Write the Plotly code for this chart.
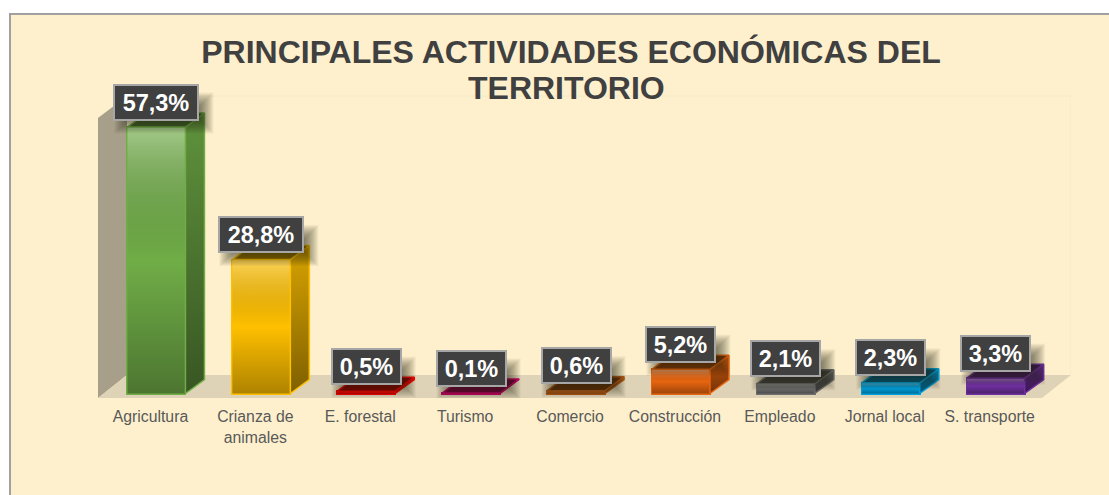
import plotly.graph_objects as go

categories = ["Agricultura", "Crianza de<br>animales", "E. forestal", "Turismo", "Comercio",
              "Construcción", "Empleado", "Jornal local", "S. transporte"]
values = [57.3, 28.8, 0.5, 0.1, 0.6, 5.2, 2.1, 2.3, 3.3]
labels = ["57,3%", "28,8%", "0,5%", "0,1%", "0,6%", "5,2%", "2,1%", "2,3%", "3,3%"]
colors = ["#70ad47", "#ffc000", "#ff0000", "#d0006a", "#b85a12", "#e8650f", "#6e6e6e", "#00a0dc", "#7030a0"]
title_line_1 = "PRINCIPALES ACTIVIDADES ECONÓMICAS DEL"
title_line_2 = "TERRITORIO"

W, H = 1109, 495
L, R, T, B = 98, 1071, 60, 398      # plot area, px
PX_X = 104.9                        # px per category
PX_Y = 4.65                         # px per percentage point
Y0_PX = 393.5                       # px of value 0 on the front plane
x_range = [-0.5, -0.5 + (R - L) / PX_X]
y_range = [-(B - Y0_PX) / PX_Y, (Y0_PX - T) / PX_Y]
DX, DY = 19 / PX_X, 14 / PX_Y       # bar depth
BAR_W = 58 / PX_X
BAR_OFF = 6 / PX_X
WALL_DX, WALL_DY = 29 / PX_X, 23 / PX_Y
WALL_TOP = (Y0_PX - 118) / PX_Y


def shade(c, f):
    r, g, b = int(c[1:3], 16), int(c[3:5], 16), int(c[5:7], 16)
    return f"rgb({int(r*f)},{int(g*f)},{int(b*f)})"


fig = go.Figure()
xs = [i + BAR_OFF for i in range(len(values))]
fig.add_trace(go.Bar(x=xs, y=values, width=BAR_W, marker=dict(color=colors, line=dict(color=colors, width=2)),
                     hoverinfo="skip", showlegend=False, cliponaxis=False))

for x, v, c in zip(xs, values, colors):
    x0, x1 = x - BAR_W / 2, x + BAR_W / 2
    # gradient overlay on the front face
    fig.add_trace(go.Scatter(
        x=[x0, x1, x1, x0, x0], y=[0, 0, v, v, 0], mode="lines", line=dict(width=0), fill="toself",
        fillgradient=dict(type="vertical", colorscale=[[0, "rgba(0,0,0,0.32)"], [0.5, "rgba(0,0,0,0)"], [1, "rgba(255,255,255,0.36)"]]),
        hoverinfo="skip", showlegend=False))
    # side face
    fig.add_trace(go.Scatter(
        x=[x1, x1 + DX, x1 + DX, x1, x1], y=[0, DY, v + DY, v, 0], mode="lines",
        line=dict(width=1.5, color=c), fill="toself",
        fillgradient=dict(type="vertical", colorscale=[[0, shade(c, 0.5)], [1, shade(c, 0.85)]]),
        hoverinfo="skip", showlegend=False))
    # top face
    fig.add_trace(go.Scatter(
        x=[x0, x1, x1 + DX, x0 + DX, x0], y=[v, v, v + DY, v + DY, v], mode="lines",
        line=dict(width=1.5, color=c), fill="toself", fillcolor=shade(c, 0.55),
        hoverinfo="skip", showlegend=False))

shapes = [
    # chart background and border
    dict(type="rect", xref="paper", yref="paper", layer="below",
         x0=(10 - L) / (R - L), x1=(W + 5 - L) / (R - L), y0=(B - H - 5) / (B - T), y1=(B - 14) / (B - T),
         fillcolor="#fef0cd", line=dict(color="#a0a0a0", width=2)),
    # back wall edges
    dict(type="path", layer="below", xref="x", yref="y",
         path=f"M {x_range[0]+WALL_DX},{(Y0_PX-96)/PX_Y} L {x_range[1]},{(Y0_PX-96)/PX_Y} L {x_range[1]},{y_range[0]+WALL_DY}",
         line=dict(color="#f8eac6", width=1.5)),
    # side wall
    dict(type="path", layer="below", xref="x", yref="y",
         path=f"M {x_range[0]},{y_range[0]} L {x_range[0]},{WALL_TOP} L {x_range[0]+WALL_DX},{(Y0_PX-96)/PX_Y} "
              f"L {x_range[0]+WALL_DX},{y_range[0]+WALL_DY} Z",
         fillcolor="#a89f8a", line=dict(width=0)),
    # floor
    dict(type="path", layer="below", xref="x", yref="y",
         path=f"M {x_range[0]},{y_range[0]} L {x_range[0]+WALL_DX},{y_range[0]+WALL_DY} L {x_range[1]},{y_range[0]+WALL_DY} "
              f"L {x_range[1]-WALL_DX},{y_range[0]} Z",
         fillcolor="#dfd3b7", line=dict(width=0)),
]

annotations = [dict(
    x=(566 - L) / (R - L), y=(B - 88) / (B - T), xref="paper", yref="paper", text=f"<b>{title_line_2}</b>", showarrow=False,
    xanchor="center", yanchor="middle", font=dict(family="Liberation Sans", size=32, color="#404040"))]
LABEL_H = 37
LABEL_OFF = 25
for i, (x, v, t) in enumerate(zip(xs, values, labels)):
    w = 86 if v >= 10 else 71
    annotations.append(dict(
        x=x, y=v, xref="x", yref="y", text=f"<b>{t}</b>", showarrow=False, yshift=LABEL_OFF,
        width=w - 4, height=LABEL_H - 4, bgcolor="#404040", bordercolor="#a6a6a6", borderwidth=2, borderpad=0,
        align="center", valign="middle", font=dict(family="Liberation Sans", size=23.5, color="#ffffff")))
    # soft label shadow
    for grow in range(-7, 8):
        shapes.append(dict(
            type="rect", xref="x", yref="y", layer="above",
            x0=x + (-w / 2 + 8 - grow) / PX_X, x1=x + (w / 2 + 7 + grow) / PX_X,
            y0=v + (LABEL_OFF - LABEL_H / 2 - 6 - grow) / PX_Y, y1=v + (LABEL_OFF + LABEL_H / 2 - 16 + grow) / PX_Y,
            fillcolor="#2a2412", opacity=0.05, line=dict(width=0)))

fig.update_layout(
    width=W, height=H, autosize=False,
    margin=dict(l=L, r=W - R, t=T, b=H - B, pad=0),
    paper_bgcolor="#ffffff", plot_bgcolor="rgba(0,0,0,0)",
    font=dict(family="Liberation Sans", color="#595959"),
    title=dict(text=f"<b>{title_line_1}</b>", x=571 / W, xanchor="center", y=1 - 52 / H, yanchor="middle",
               font=dict(family="Liberation Sans", size=32, color="#404040")),
    xaxis=dict(range=x_range, tickvals=list(range(len(categories))), ticktext=categories, showgrid=False,
               zeroline=False, showline=False, ticks="outside", ticklen=4, tickcolor="rgba(0,0,0,0)",
               tickangle=0, tickfont=dict(size=15.8, color="#595959", family="Liberation Sans")),
    yaxis=dict(range=y_range, visible=False),
    shapes=shapes, annotations=annotations, bargap=0,
)
fig.write_html("out.html", config=dict(displayModeBar=False),
               post_script="document.body.style.margin='0';document.body.style.overflow='hidden';")
